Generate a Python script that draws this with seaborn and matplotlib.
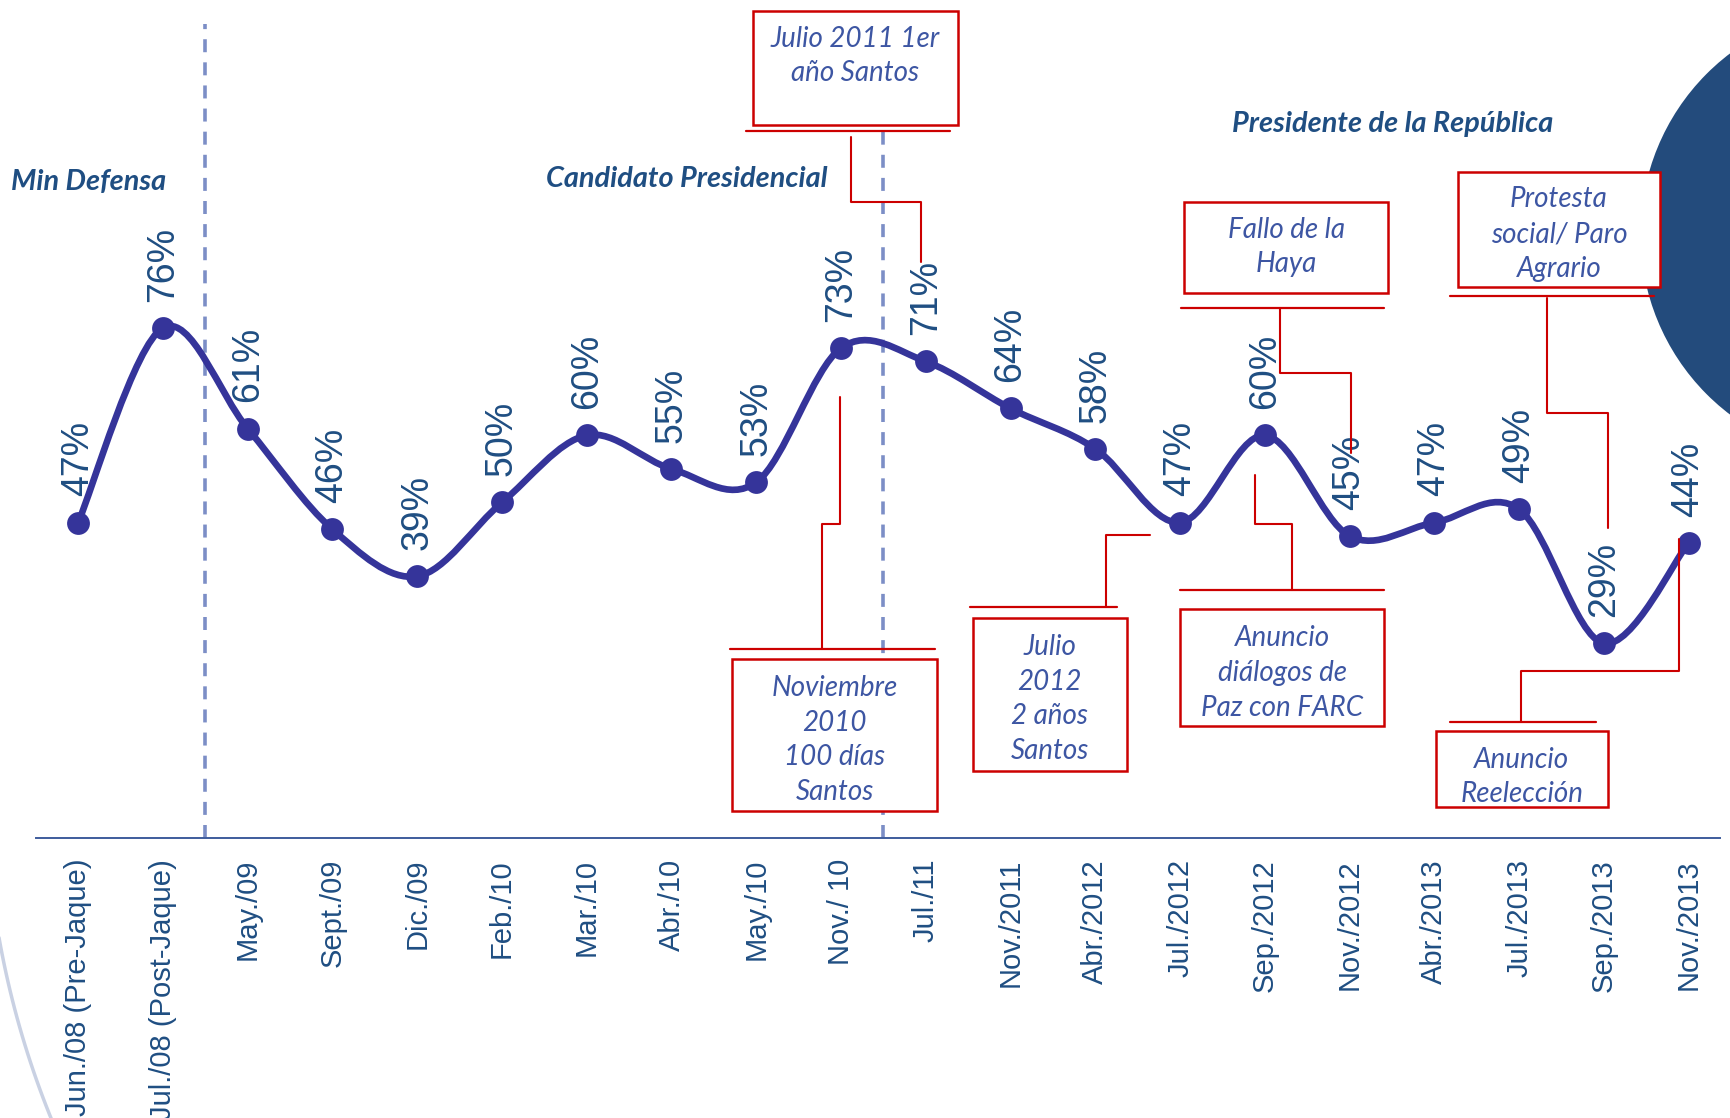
import numpy as np
import pandas as pd
import matplotlib
matplotlib.use("Agg")
import matplotlib.pyplot as plt
import matplotlib.patches as mpatches
from matplotlib.path import Path
import seaborn as sns

# ==========================================================
# DATOS
# ==========================================================

categories = [
    "Jun./08 (Pre-Jaque)", "Jul./08 (Post-Jaque)", "May./09", "Sept./09",
    "Dic./09", "Feb./10", "Mar./10", "Abr./10", "May./10", "Nov./ 10",
    "Jul./11", "Nov./2011", "Abr./2012", "Jul./2012", "Sep./2012",
    "Nov./2012", "Abr./2013", "Jul./2013", "Sep./2013", "Nov./2013",
]
approval = [47, 76, 61, 46, 39, 50, 60, 55, 53, 73,
            71, 64, 58, 47, 60, 45, 47, 49, 29, 44]

periods = ["Min Defensa", "Candidato Presidencial", "Presidente de la República"]
period_breaks = [1.5, 9.5]

event_texts = [
    "Julio 2011 1er\naño Santos",
    "Noviembre\n2010\n100 días\nSantos",
    "Julio\n2012\n2 años\nSantos",
    "Anuncio\ndiálogos de\nPaz con FARC",
    "Fallo de la\nHaya",
    "Protesta\nsocial/ Paro\nAgrario",
    "Anuncio\nReelección",
]

df = pd.DataFrame({"x": np.arange(len(categories)), "aprobacion": approval})

# ==========================================================
# ESTILO Y LIENZO
# ==========================================================

sns.set_theme(style="white")
plt.rcParams["font.family"] = ["Liberation Sans", "DejaVu Sans"]

LINE = "#35349A"
DARK = "#1F4E82"
BOX_TXT = "#3D56A3"
RED = "#CC0000"
DASH = "#7C8EC6"

W, H = 1731, 1118
X0, X1 = -0.922, 19.37
Y0, Y1 = -41.7, 124.85

fig = plt.figure(figsize=(W / 100, H / 100), dpi=100)
ax = fig.add_axes([0, 0, 1, 1])
ax.set_xlim(X0, X1)
ax.set_ylim(Y0, Y1)


def px(x, y):
    # pixel de la imagen -> coordenadas de datos
    return X0 + x / W * (X1 - X0), Y1 - y / H * (Y1 - Y0)


# ==========================================================
# DECORACION
# ==========================================================

cx, cy = px(1877, 234)
ax.add_patch(mpatches.Ellipse((cx, cy), 2 * 226 / W * (X1 - X0), 2 * 226 / H * (Y1 - Y0),
                              color="#234B7C", zorder=0, lw=0))

# arco tenue abajo a la izquierda
t = np.deg2rad(np.linspace(180, 215, 60))
arc_x, arc_y = px(880 + 895 * np.cos(t), 780 - 895 * np.sin(t))
ax.plot(arc_x, arc_y, color="#C9D1E3", lw=2.5, zorder=0)

# ==========================================================
# EJES
# ==========================================================

for s in ["top", "right", "left"]:
    ax.spines[s].set_visible(False)
ax.spines["bottom"].set_position(("data", 0))
ax.spines["bottom"].set_bounds(-0.5, X1)
ax.spines["bottom"].set_color("#3E5C9C")
ax.spines["bottom"].set_linewidth(1.4)

ax.set_xticks(df["x"], categories, rotation=90, fontsize=21, color=DARK)
ax.set_xticks(np.arange(-0.5, len(categories), 1), minor=True)
ax.tick_params(axis="x", which="major", length=0, pad=15)
ax.tick_params(axis="x", which="minor", length=7, width=1.2, color="#3E5C9C", direction="out")
ax.set_yticks([])

for b in period_breaks:
    ax.plot([b, b], [0, px(0, 24)[1]], color=DASH, lw=2.6,
            linestyle=(0, (3.6, 2.8)), zorder=1)

# ==========================================================
# SERIE SUAVIZADA
# ==========================================================

pts = df[["x", "aprobacion"]].to_numpy(dtype=float)
n = len(pts)
verts = [pts[0]]
codes = [Path.MOVETO]
for i in range(n - 1):
    p0 = pts[i - 1] if i > 0 else pts[i]
    p3 = pts[i + 2] if i + 2 < n else pts[i + 1]
    verts += [pts[i] + (pts[i + 1] - p0) / 6, pts[i + 1] - (p3 - pts[i]) / 6, pts[i + 1]]
    codes += [Path.CURVE4] * 3
ax.add_patch(mpatches.PathPatch(Path(verts, codes), fill=False, edgecolor=LINE,
                                lw=4.8, capstyle="round", zorder=3))

sns.scatterplot(data=df, x="x", y="aprobacion", s=270, color=LINE,
                edgecolor=LINE, linewidth=0, zorder=4, ax=ax, legend=False)
ax.set_xlabel("")
ax.set_ylabel("")

for xi, v in zip(df["x"], df["aprobacion"]):
    ax.text(xi, v + 3.9, f"{v}%", rotation=90, ha="center", va="bottom",
            fontsize=27, color=DARK, zorder=2)

# ==========================================================
# TITULOS DE PERIODO
# ==========================================================

head_font = dict(family=["Lato", "DejaVu Sans"], fontsize=20.8, fontweight="bold",
                 fontstyle="italic", color=DARK, va="center", ha="left")
for label, (hx, hy) in zip(periods, [(11, 182), (550, 179), (1240, 124)]):
    ax.text(*px(hx, hy), label, **head_font)

# ==========================================================
# CAJAS DE EVENTOS
# ==========================================================

# rect (x0, y0, x1, y1), linea (y, x0, x1), conector [(x, y), ...], centro de texto y
boxes = [
    ((758, 11, 964, 125), (131, 751, 956), [(856, 137), (856, 202), (927, 202), (927, 262)], 56),
    ((737, 659, 943, 811), (649, 735, 941), [(827, 649), (827, 524), (845, 524), (845, 397)], 740),
    ((979, 618, 1134, 771), (607, 976, 1124), [(1113, 607), (1113, 535), (1157, 535)], 699),
    ((1188, 609, 1393, 726), (590, 1188, 1393), [(1300, 590), (1300, 524), (1263, 524), (1263, 475)], 673),
    ((1192, 202, 1397, 293), (308, 1189, 1393), [(1288, 308), (1288, 373), (1360, 373), (1360, 453)], 247),
    ((1467, 172, 1671, 287), (296, 1459, 1665), [(1557, 298), (1557, 413), (1618, 413), (1618, 528)], 234),
    ((1445, 731, 1618, 807), (722, 1459, 1606), [(1531, 722), (1531, 671), (1690, 671), (1690, 539)], 777),
]

for text, (rect, hline, conn, ty) in zip(event_texts, boxes):
    x0, y0 = px(rect[0], rect[3])
    x1, y1 = px(rect[2], rect[1])
    ax.add_patch(mpatches.Rectangle((x0, y0), x1 - x0, y1 - y0, facecolor="white",
                                    edgecolor=RED, lw=1.8, zorder=6))
    ly = px(0, hline[0])[1]
    ax.plot([px(hline[1], 0)[0], px(hline[2], 0)[0]], [ly, ly], color=RED, lw=1.6, zorder=5)
    cxs, cys = zip(*[px(a, b) for a, b in conn])
    ax.plot(cxs, cys, color=RED, lw=1.5, zorder=5)
    ax.text(*px((rect[0] + rect[2]) / 2, ty), text, ha="center", va="center",
            family=["Lato", "DejaVu Sans"], fontstyle="italic", fontsize=20,
            color=BOX_TXT, linespacing=1.42, zorder=7)

plt.savefig("out.png", dpi=100)
